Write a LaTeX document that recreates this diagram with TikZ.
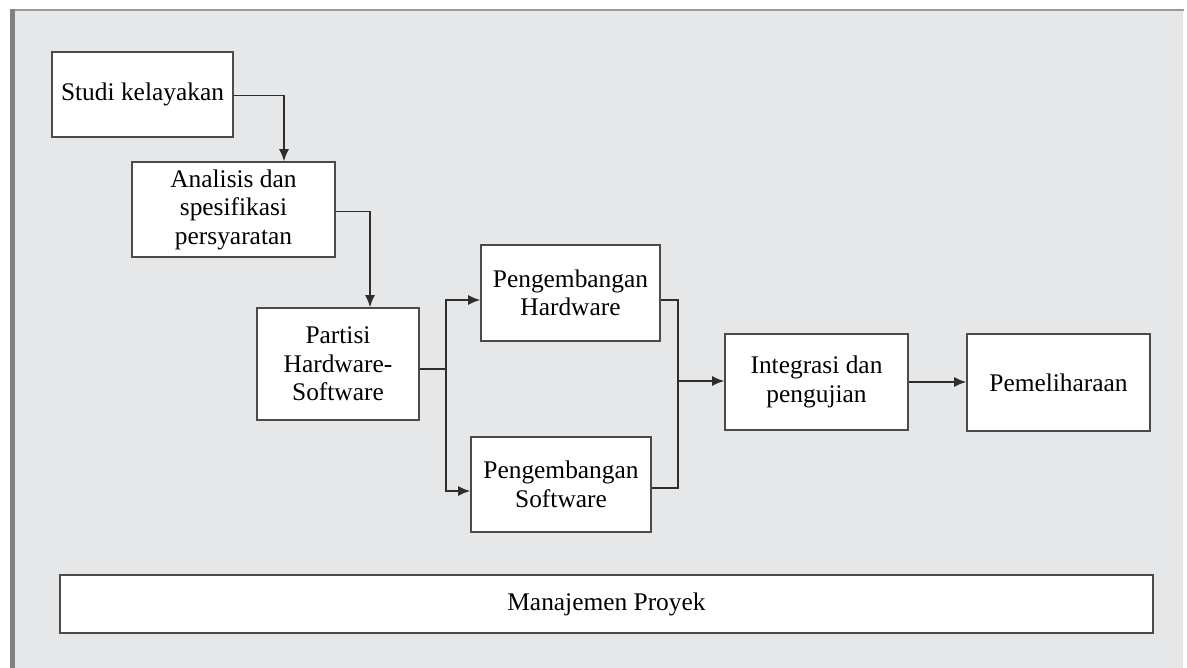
\documentclass[tikz,border=0pt]{standalone}
\usepackage{fontspec}
\setmainfont{Liberation Serif}
\usetikzlibrary{arrows.meta,calc}
\definecolor{bgcol}{HTML}{E6E7E9}
\definecolor{boxline}{HTML}{4A4A4A}
\definecolor{conn}{HTML}{2E2E2E}
\begin{document}
\begin{tikzpicture}[x=1pt,y=-1pt,
  box/.style={draw=boxline,fill=white,line width=1.6pt,inner sep=2pt,align=center,
    font=\fontsize{25.4}{28.5}\selectfont},
  link/.style={draw=conn,line width=1.5pt},
  arr/.style={link,-{Latex[length=12pt,width=10pt]}}]
\useasboundingbox (0,0) rectangle (1187,668);
\fill[white] (0,0) rectangle (1187,668);
\fill[bgcol] (13,11) rectangle (1183,668);
\draw[color=black!40,line width=2pt] (13,10) -- (1184,10);
\draw[color=black!50,line width=5pt] (12.5,9) -- (12.5,668);
\draw[color=black!12,line width=1pt] (1182,12) -- (1182,668);

\node[box,minimum width=181pt,minimum height=85pt] (studi) at (142.5,94.5) {Studi kelayakan};
\node[box,minimum width=203pt,minimum height=95pt] (anal) at (233.5,209.5) {Analisis dan\\spesifikasi\\persyaratan};
\node[box,minimum width=162pt,minimum height=112pt] (part) at (338,364) {Partisi\\Hardware-\\Software};
\node[box,minimum width=179pt,minimum height=96pt] (hw) at (570.5,293) {Pengembangan\\Hardware};
\node[box,minimum width=180pt,minimum height=95pt] (sw) at (561,484.5) {Pengembangan\\Software};
\node[box,minimum width=183pt,minimum height=96pt] (integ) at (816.5,382) {Integrasi dan\\pengujian};
\node[box,minimum width=183pt,minimum height=97pt] (pemel) at (1058.5,382.5) {Pemeliharaan};
\node[box,minimum width=1093pt,minimum height=58pt] (manaj) at (606.5,604) {Manajemen Proyek};

\coordinate (split) at (446,369);
\coordinate (merge) at (678,381);

\draw[arr] ([yshift=-1pt]studi.east) -| ([xshift=50.5pt]anal.north);
\draw[arr] ([yshift=-2pt]anal.east) -| ([xshift=32pt]part.north);
\draw[link] (part.east |- split) -- (split);
\draw[arr] (split) |- ([yshift=-7pt]hw.west);
\draw[arr] (split) |- ([yshift=-6.5pt]sw.west);
\draw[link] ([yshift=-7pt]hw.east) -| (merge);
\draw[link] ([yshift=-3.5pt]sw.east) -| (merge);
\draw[arr] (merge) -- (integ.west |- merge);
\draw[arr] (integ.east) -- (pemel.west |- integ.east);
\end{tikzpicture}
\end{document}
